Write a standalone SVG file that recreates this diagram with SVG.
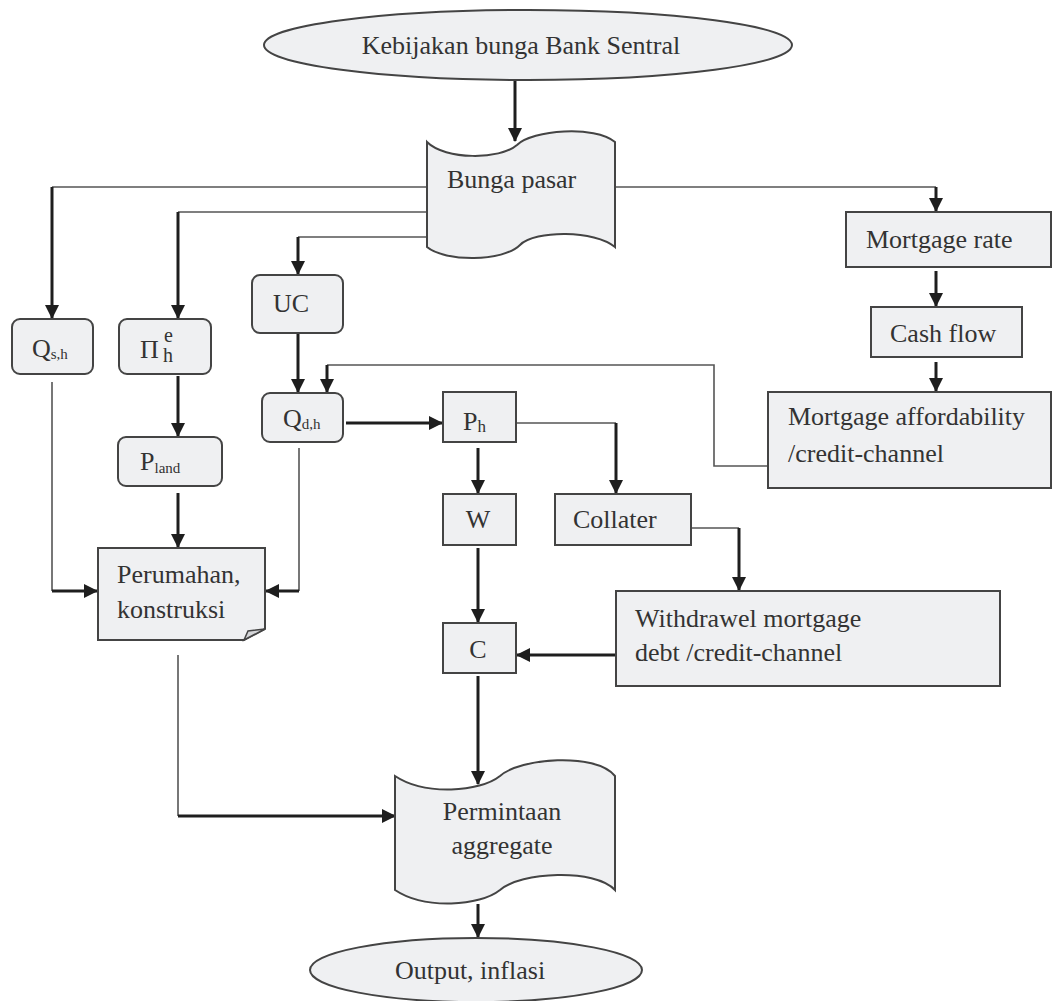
<svg xmlns="http://www.w3.org/2000/svg" width="1052" height="1001" viewBox="0 0 1052 1001">
<defs>
<marker id="ah" viewBox="0 0 14 14" refX="13" refY="7" markerWidth="14" markerHeight="14" markerUnits="userSpaceOnUse" orient="auto">
<path d="M0,0 L14,7 L0,14 z" fill="#1e1e1e"/>
</marker>
<style>
.box{fill:#eff0f2;stroke:#444;stroke-width:2}
.t{font-family:"Liberation Serif","DejaVu Serif",serif;font-size:26px;fill:#333}
.thin{fill:none;stroke:#555;stroke-width:1.6}
.arr{fill:none;stroke:#1e1e1e;stroke-width:3;marker-end:url(#ah)}
</style>
</defs>
<rect width="1052" height="1001" fill="#fff"/>

<g id="connectors">
<path class="arr" d="M515,80 V141"/>
<path class="thin" d="M427,187 H52"/>
<path class="arr" d="M52,187 V318"/>
<path class="thin" d="M427,212 H178"/>
<path class="arr" d="M178,212 V318"/>
<path class="thin" d="M427,237 H298"/>
<path class="arr" d="M298,237 V274"/>
<path class="thin" d="M615,187 H936"/>
<path class="arr" d="M936,187 V211"/>
<path class="arr" d="M936,271 V306"/>
<path class="arr" d="M936,362 V391"/>
<path class="thin" d="M768,466 H714 V365 H327"/>
<path class="arr" d="M327,365 V392"/>
<path class="arr" d="M298,333 V392"/>
<path class="arr" d="M178,376 V436"/>
<path class="thin" d="M52,382 V591"/>
<path class="arr" d="M52,591 H97"/>
<path class="arr" d="M178,493 V547"/>
<path class="thin" d="M299,448 V591"/>
<path class="arr" d="M299,591 H266"/>
<path class="arr" d="M346,423 H442"/>
<path class="arr" d="M478,448 V493"/>
<path class="thin" d="M516,423 H616"/>
<path class="arr" d="M616,423 V493"/>
<path class="arr" d="M478,548 V622"/>
<path class="thin" d="M691,528 H739"/>
<path class="arr" d="M739,528 V590"/>
<path class="arr" d="M616,655 H517"/>
<path class="arr" d="M478,676 V784"/>
<path class="thin" d="M178,655 V816"/>
<path class="arr" d="M178,816 H395"/>
<path class="arr" d="M478,904 V937"/>
</g>

<g id="kebijakan">
<ellipse class="box" cx="528" cy="45" rx="264" ry="35"/>
<text class="t" x="521" y="54" text-anchor="middle">Kebijakan bunga Bank Sentral</text>
</g>

<g id="bunga-pasar">
<path class="box" d="M427,142 C445,160 500,160 517,145 C532,130 595,125 615,142 V247 C595,230 535,230 520,245 C503,262 445,262 427,247 Z"/>
<text class="t" x="447" y="188">Bunga pasar</text>
</g>

<g id="qsh">
<rect class="box" x="12" y="319" width="81" height="55" rx="8"/>
<text class="t" x="32" y="357">Q<tspan style="font-size:15px" dy="2">s,h</tspan></text>
</g>

<g id="pie">
<rect class="box" x="119" y="319" width="92" height="55" rx="8"/>
<text class="t" x="140" y="358">Π</text>
<text class="t" x="164" y="342" style="font-size:20px">e</text>
<text class="t" x="163" y="362" style="font-size:20px">h</text>
</g>

<g id="uc">
<rect class="box" x="252" y="275" width="91" height="58" rx="8"/>
<text class="t" x="273" y="312">UC</text>
</g>

<g id="qdh">
<rect class="box" x="262" y="393" width="81" height="49" rx="8"/>
<text class="t" x="283" y="427">Q<tspan style="font-size:15px" dy="2">d,h</tspan></text>
</g>

<g id="pland">
<rect class="box" x="118" y="437" width="104" height="49" rx="8"/>
<text class="t" x="140" y="470">P<tspan style="font-size:15px" dy="3">land</tspan></text>
</g>

<g id="perumahan">
<path class="box" d="M98,548 H265 V629 L244,640 H98 Z"/>
<path d="M244,640 L248,631 L265,629 Z" fill="#d4d5d8" stroke="#444" stroke-width="1.5"/>
<text class="t" x="117" y="583">Perumahan,</text>
<text class="t" x="117" y="618">konstruksi</text>
</g>

<g id="ph">
<rect class="box" x="443" y="392" width="73" height="50"/>
<text class="t" x="463" y="430">P<tspan style="font-size:17px" dy="2">h</tspan></text>
</g>

<g id="w">
<rect class="box" x="443" y="494" width="73" height="51"/>
<text class="t" x="478" y="528" text-anchor="middle">W</text>
</g>

<g id="c">
<rect class="box" x="443" y="623" width="73" height="50"/>
<text class="t" x="478" y="658" text-anchor="middle">C</text>
</g>

<g id="collater">
<rect class="box" x="555" y="494" width="136" height="51"/>
<text class="t" x="573" y="528">Collater</text>
</g>

<g id="mortgage-rate">
<rect class="box" x="846" y="212" width="205" height="55"/>
<text class="t" x="866" y="248">Mortgage rate</text>
</g>

<g id="cash-flow">
<rect class="box" x="871" y="307" width="151" height="50"/>
<text class="t" x="890" y="342">Cash flow</text>
</g>

<g id="mortgage-affordability">
<rect class="box" x="768" y="392" width="283" height="96"/>
<text class="t" x="788" y="425">Mortgage affordability</text>
<text class="t" x="788" y="462">/credit-channel</text>
</g>

<g id="withdrawel">
<rect class="box" x="616" y="591" width="384" height="95"/>
<text class="t" x="635" y="627">Withdrawel mortgage</text>
<text class="t" x="635" y="661">debt /credit-channel</text>
</g>

<g id="permintaan">
<path class="box" d="M395,776 C425,796 480,792 500,776 C520,758 595,752 615,776 V890 C595,868 520,872 500,890 C480,906 425,910 395,890 Z"/>
<text class="t" x="502" y="820" text-anchor="middle">Permintaan</text>
<text class="t" x="502" y="854" text-anchor="middle">aggregate</text>
</g>

<g id="output">
<ellipse class="box" cx="476" cy="970" rx="166" ry="32"/>
<text class="t" x="470" y="979" text-anchor="middle">Output, inflasi</text>
</g>
</svg>
